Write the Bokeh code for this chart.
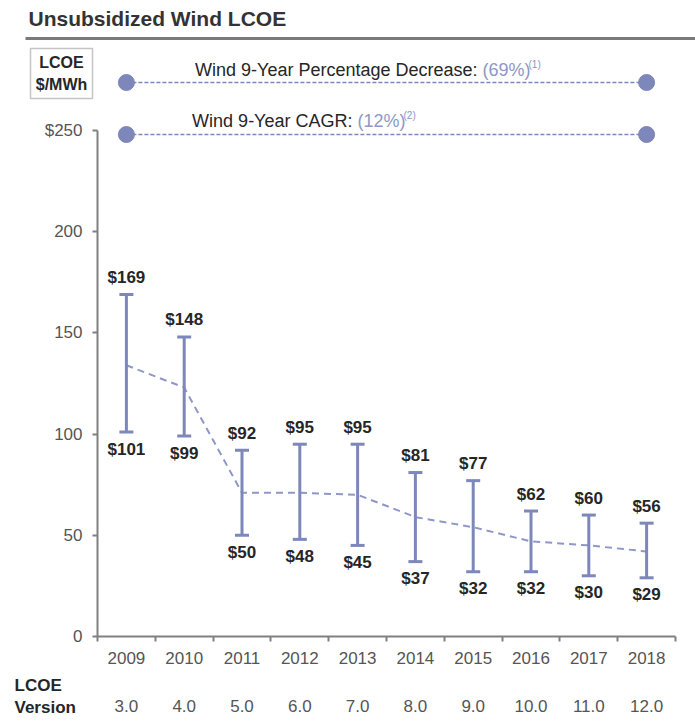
from bokeh.plotting import figure
from bokeh.models import (ColumnDataSource, FixedTicker, LinearAxis, Range1d,
                          Label, BoxAnnotation)
from bokeh.embed import file_html
from bokeh.resources import INLINE
from bokeh.core.properties import value

# ---------------- data ----------------
years = ["2009", "2010", "2011", "2012", "2013", "2014", "2015", "2016", "2017", "2018"]
versions = ["3.0", "4.0", "5.0", "6.0", "7.0", "8.0", "9.0", "10.0", "11.0", "12.0"]
high = [169, 148, 92, 95, 95, 81, 77, 62, 60, 56]
low = [101, 99, 50, 48, 45, 37, 32, 32, 30, 29]
midpoint = [134, 123, 71, 71, 70, 59, 54, 47, 45, 42]
y_ticks = [0, 50, 100, 150, 200, 250]
y_tick_labels = ["0", "50", "100", "150", "200", "$250"]
decrease_pct = "(69%)"
cagr_pct = "(12%)"

# ---------------- layout (pixels) ----------------
W, H = 695, 721
AX_LEFT, AX_RIGHT = 97, 675      # x pixel of category 0 edge / 10 edge
AX_ZERO, AX_TOP = 636, 130       # y pixel of value 0 / value 250
YMAX_TICK = 250
ppx = (AX_RIGHT - AX_LEFT) / 10.0
ppy = (AX_ZERO - AX_TOP) / float(YMAX_TICK)

def sx(px):  # canvas px -> screen units (frame == canvas)
    return px
def sy(py):
    return H - py
def dy(py):  # canvas y px -> data value
    return (AX_ZERO - py) / ppy
def dx(px):
    return (px - AX_LEFT) / ppx

FONT = "Liberation Sans"
BAR = "#7D87BA"
DASH = "#8E97C7"
TXT = "#262626"
GRAY = "#555555"
AXC = "#808080"

xs = [i + 0.5 for i in range(len(years))]
src = ColumnDataSource(dict(
    x=xs, high=high, low=low, mid=midpoint,
    hl=["$%d" % v for v in high], ll=["$%d" % v for v in low]))

p = figure(width=W, height=H, output_backend="svg", toolbar_location=None,
           x_range=Range1d(dx(0), dx(W)), y_range=Range1d(dy(H), dy(0)),
           x_axis_location=None, y_axis_location=None,
           min_border=0, min_border_left=0, min_border_right=0,
           min_border_top=0, min_border_bottom=0, outline_line_color=None,
           background_fill_color="white", border_fill_color="white")
p.xgrid.visible = False
p.ygrid.visible = False

# y axis
yax = LinearAxis(ticker=FixedTicker(ticks=y_ticks), bounds=(0, YMAX_TICK), fixed_location=0)
yax.major_label_overrides = {t: l for t, l in zip(y_ticks, y_tick_labels)}
yax.axis_line_color = AXC
yax.axis_line_width = 2
yax.major_tick_line_color = AXC
yax.major_tick_line_width = 2
yax.major_tick_out = 5
yax.major_tick_in = 0
yax.minor_tick_line_color = None
yax.major_label_text_font = FONT
yax.major_label_text_font_size = "17px"
yax.major_label_text_color = GRAY
yax.major_label_standoff = 10
p.add_layout(yax, "left")

# x axis (years)
xax = LinearAxis(ticker=FixedTicker(ticks=xs, minor_ticks=list(range(0, 11))),
                 bounds=(0, 10), fixed_location=0)
xax.major_label_overrides = {x: y for x, y in zip(xs, years)}
xax.axis_line_color = AXC
xax.axis_line_width = 2
xax.major_tick_line_color = None
xax.major_tick_out = 0
xax.major_tick_in = 0
xax.minor_tick_line_color = AXC
xax.minor_tick_line_width = 2
xax.minor_tick_out = 5
xax.minor_tick_in = 0
xax.major_label_text_font = FONT
xax.major_label_text_font_size = "17px"
xax.major_label_text_color = GRAY
xax.major_label_standoff = 10
p.add_layout(xax, "below")

# second row: LCOE version
vax = LinearAxis(ticker=FixedTicker(ticks=xs, minor_ticks=[]), fixed_location=dy(697))
vax.major_label_overrides = {x: v for x, v in zip(xs, versions)}
vax.axis_line_color = None
vax.major_tick_line_color = None
vax.minor_tick_line_color = None
vax.major_tick_out = 0
vax.major_tick_in = 0
vax.major_label_text_font = FONT
vax.major_label_text_font_size = "17px"
vax.major_label_text_color = GRAY
vax.major_label_standoff = 2
p.add_layout(vax, "below")

# midpoint dashed line
p.line("x", "mid", source=src, line_color=DASH, line_width=2, line_dash="7 5")

# error bars
p.segment(x0="x", y0="low", x1="x", y1="high", source=src, line_color=BAR, line_width=3)
p.dash("x", "high", source=src, size=14, line_color=BAR, line_width=3)
p.dash("x", "low", source=src, size=14, line_color=BAR, line_width=3)

# value labels
p.text("x", "high", text="hl", source=src, text_font=value(FONT), text_font_style="bold",
       text_font_size="17px", text_color=TXT, text_align="center",
       text_baseline="middle", y_offset=-17)
p.text("x", "low", text="ll", source=src, text_font=value(FONT), text_font_style="bold",
       text_font_size="17px", text_color=TXT, text_align="center",
       text_baseline="middle", y_offset=17)

# top annotation lines (first to last year)
for py in (82, 134):
    yv = dy(py)
    p.line([xs[0], xs[-1]], [yv, yv], line_color=BAR, line_width=1.5, line_dash="4 2")
    p.scatter([xs[0], xs[-1]], [yv, yv], size=16, fill_color=BAR, line_color=BAR)

def ann(px, py, txt, color, size="18px", align="left", style="normal", lh=1.2):
    p.add_layout(Label(x=sx(px), y=sy(py), x_units="screen", y_units="screen",
                       text=txt, text_font=FONT, text_font_size=size,
                       text_color=color, text_align=align, text_baseline="middle",
                       text_font_style=style, text_line_height=lh))

ann(482, 69, "Wind 9-Year Percentage Decrease: ", TXT, align="right")
ann(482, 69, decrease_pct, DASH)
ann(528, 64, "(1)", DASH, size="10px")
ann(357, 120, "Wind 9-Year CAGR: ", TXT, align="right")
ann(357, 120, cagr_pct, DASH)
ann(403, 115, "(2)", DASH, size="10px")

# title and rule
ann(28, 18, "Unsubsidized Wind LCOE", "#333333", size="21px", style="bold")
p.add_layout(BoxAnnotation(left=sx(25), right=sx(W), top=sy(36.5), bottom=sy(39.5),
                           left_units="screen", right_units="screen",
                           top_units="screen", bottom_units="screen",
                           fill_color="#7a7a7a", fill_alpha=1, line_color=None))

# LCOE $/MWh box
p.add_layout(BoxAnnotation(left=sx(30), right=sx(92), top=sy(48), bottom=sy(98),
                           left_units="screen", right_units="screen",
                           top_units="screen", bottom_units="screen",
                           fill_color="white", fill_alpha=1, line_color="#404040",
                           line_width=1.5))
ann(61, 73, "LCOE\n$/MWh", TXT, size="16px", align="center", style="bold", lh=1.3)

# LCOE Version row label
ann(14, 696, "LCOE\nVersion", TXT, size="17px", style="bold", lh=1.2)

open("out.html", "w").write(file_html(p, INLINE))
